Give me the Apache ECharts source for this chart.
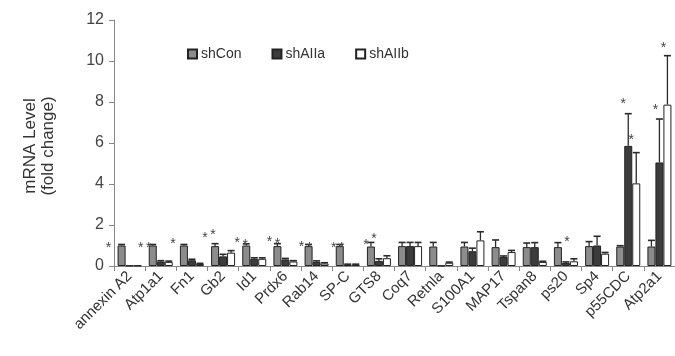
<!DOCTYPE html>
<html><head><meta charset="utf-8">
<script src="https://cdn.jsdelivr.net/npm/echarts@6/dist/echarts.min.js"></script>
<style>html,body{margin:0;padding:0;background:#fff}#c{width:675px;height:356px}</style>
</head><body><div id="c"></div>
<script>
const categories = ['annexin A2','Atp1a1','Fn1','Gb2','Id1','Prdx6','Rab14','SP-C','GTS8','Coq7','Retnla','S100A1','MAP17','Tspan8','ps20','Sp4','p55CDC','Atp2a1'];
const yTicks = [0, 2, 4, 6, 8, 10, 12];
const shCon     = [1.0,1.0,1.0,0.97,1.0,0.97,0.97,0.97,0.95,0.97,0.95,0.95,0.92,0.92,0.92,0.97,0.95,0.95];
const shConErr  = [0.05,0.05,0.05,0.12,0.08,0.12,0.08,0.08,0.2,0.18,0.2,0.2,0.35,0.2,0.22,0.22,0.04,0.3];
const shAIIa    = [0.02,0.22,0.28,0.47,0.35,0.32,0.2,0.07,0.25,0.97,0.02,0.72,0.44,0.92,0.15,1.0,5.86,5.05];
const shAIIaErr = [0,0.04,0.05,0.1,0.05,0.05,0.05,0.02,0.1,0.18,0,0.15,0.05,0.22,0.05,0.45,1.57,2.12];
const shAIIb    = [0.02,0.2,0.1,0.65,0.35,0.22,0.12,0.07,0.38,0.97,0.16,1.25,0.68,0.2,0.23,0.6,4.03,7.87];
const shAIIbErr = [0,0.04,0.03,0.1,0.05,0.04,0.04,0.02,0.12,0.18,0.03,0.42,0.08,0.03,0.12,0.06,1.5,2.39];
// significance asterisk heights (null = none)
const starA = [1.0,1.0,1.21,1.49,1.25,1.33,1.09,1.04,1.15,null,null,null,null,null,null,null,8.06,7.75];
const starB = [null,1.0,null,1.65,1.17,1.2,1.0,1.04,1.46,null,null,null,null,null,1.3,null,6.3,10.76];

const BW = 8;
const chart = echarts.init(document.getElementById('c'), null, {renderer:'canvas'});
const FONT = 'Liberation Sans, Arial, sans-serif';

function errSeries(vals, errs, off) {
  return {
    type: 'custom', z: 5, silent: true,
    data: vals.map((v, i) => [i, v, errs[i]]),
    renderItem: function (params, api) {
      const i = api.value(0), v = api.value(1), e = api.value(2);
      if (!e) return null;
      const p0 = api.coord([i, v]), p1 = api.coord([i, v + e]);
      const x = p0[0] + off;
      return {type: 'group', children: [
        {type: 'line', shape: {x1: x, y1: p0[1], x2: x, y2: p1[1]}, style: {stroke: '#2a2a2a', lineWidth: 1.3}},
        {type: 'line', shape: {x1: x - 3.5, y1: p1[1], x2: x + 3.5, y2: p1[1]}, style: {stroke: '#2a2a2a', lineWidth: 1.6}}
      ]};
    }
  };
}
function starSeries(vals, off) {
  return {
    type: 'custom', z: 6, silent: true,
    data: vals.map((v, i) => [i, v == null ? '-' : v]),
    renderItem: function (params, api) {
      const i = api.value(0), v = api.value(1);
      if (v == null || isNaN(v)) return null;
      const p = api.coord([i, v]);
      const shift = -21 + i;
      return {type: 'text', x: p[0] + off + shift, y: p[1] + 3,
        style: {text: '*', fontSize: 14, fontFamily: FONT, fill: '#444', align: 'center', verticalAlign: 'middle'}};
    }
  };
}

const option = {
  animation: false,
  grid: {left: 114, right: -6, top: 20, bottom: 90},
  legend: {
    left: 182, top: 42, itemWidth: 9, itemHeight: 9, itemGap: 30, icon: 'rect',
    textStyle: {fontSize: 14, fontFamily: FONT, color: '#333', padding: [0,0,0,-1]},
    data: ['shCon','shAIIa','shAIIb']
  },
  xAxis: {
    type: 'category', data: categories,
    axisLine: {lineStyle: {color: '#888', width: 1}},
    axisTick: {show: true, length: 5, lineStyle: {color: '#888'}},
    axisLabel: {interval: 0, rotate: 45, fontSize: 15, fontFamily: FONT, color: '#333', margin: 8}
  },
  yAxis: {
    type: 'value', min: 0, max: 12, interval: 2,
    splitLine: {show: false},
    axisLine: {show: true, lineStyle: {color: '#888', width: 1}},
    axisTick: {show: true, length: 5, lineStyle: {color: '#888'}},
    axisLabel: {fontSize: 16, fontFamily: FONT, color: '#444', margin: 10,
      formatter: v => yTicks.indexOf(v) >= 0 ? String(v) : ''}
  },
  graphic: [{
    type: 'text', x: 39, y: 146, rotation: Math.PI / 2,
    style: {text: 'mRNA Level\n(fold change)', fontSize: 17, fontFamily: FONT, fill: '#333',
      align: 'center', verticalAlign: 'middle', lineHeight: 18}
  }],
  series: [
    {name: 'shCon', type: 'bar', data: shCon, barWidth: BW, barGap: '0%',
      itemStyle: {color: '#8c8c8c', borderColor: '#222', borderWidth: 1}},
    {name: 'shAIIa', type: 'bar', data: shAIIa, barWidth: BW, barGap: '0%',
      itemStyle: {color: '#3c3c3c', borderColor: '#222', borderWidth: 1}},
    {name: 'shAIIb', type: 'bar', data: shAIIb, barWidth: BW, barGap: '0%',
      itemStyle: {color: '#ffffff', borderColor: '#222', borderWidth: 1}},
    errSeries(shCon, shConErr, -BW),
    errSeries(shAIIa, shAIIaErr, 0),
    errSeries(shAIIb, shAIIbErr, BW),
    starSeries(starA, 0),
    starSeries(starB, BW)
  ]
};
chart.setOption(option);
</script></body></html>
